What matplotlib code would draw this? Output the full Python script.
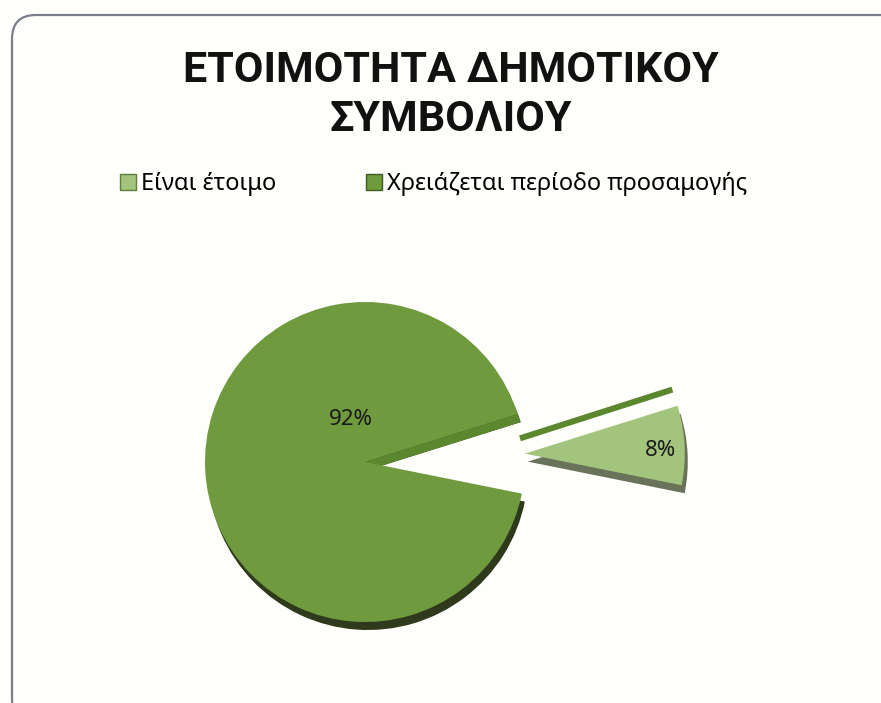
import numpy as np
import matplotlib
matplotlib.use('Agg')
import matplotlib.pyplot as plt
from matplotlib.patches import FancyBboxPatch, Patch, Polygon

title = 'ΕΤΟΙΜΟΤΗΤΑ ΔΗΜΟΤΙΚΟΥ\nΣΥΜΒΟΛΙΟΥ'
labels = ['Είναι έτοιμο', 'Χρειάζεται περίοδο προσαμογής']
shares = [8, 92]
pct_labels = ['8%', '92%']

colors = ['#a3c47c', '#6f9a3e']
side_colors = ['#68735a', '#2e3a1b']
strip_color = '#5b872e'

title_font = 'Roboto'
body_font = 'Noto Sans'

W, H = 881, 703
fig = plt.figure(figsize=(8.81, 7.03), dpi=100, facecolor='#fefefb')
ax = fig.add_axes([0, 0, 1, 1])
ax.set_facecolor('#fefefb')

# pie geometry (pixel units, y up)
cx, cy, r = 365, 241, 160
start = -11.4
explode = [r, 0]   # pie explode is in data units
depth = np.array([3, -8])

# depth / shadow layer first
ax.pie(shares, colors=side_colors, startangle=start, explode=explode,
       center=(cx + depth[0], cy + depth[1]), radius=r, frame=True,
       wedgeprops=dict(linewidth=0))

# side wall of the big slice seen through the gap
edge = np.deg2rad(start + shares[0] / 100 * 360)
d = np.array([np.cos(edge), np.sin(edge)])
n = np.array([-np.sin(edge), np.cos(edge)])
c0 = np.array([cx, cy])
wall = [c0, c0 + r * d, c0 + r * d + depth, c0 + depth]
ax.add_patch(Polygon(wall, closed=True, facecolor=strip_color, edgecolor='none'))

wedges, _ = ax.pie(shares, colors=colors, startangle=start, explode=explode,
                   center=(cx, cy), radius=r, frame=True,
                   wedgeprops=dict(linewidth=0))

# exploded slice geometry
mid = np.deg2rad(start + shares[0] / 100 * 180)
ex, ey = cx + r * np.cos(mid), cy + r * np.sin(mid)
tip = np.array([ex, ey])
# thin dark sliver above the pulled-out slice
strip = [tip + 13 * n, tip + r * d + 14 * n, tip + r * d + 20 * n, tip + 19 * n]
ax.add_patch(Polygon(strip, closed=True, facecolor=strip_color, edgecolor='none'))

# percentage labels
a8 = mid - np.deg2rad(1.5)
ax.text(ex + 0.85 * r * np.cos(a8), ey + 0.85 * r * np.sin(a8), pct_labels[0],
        ha='center', va='center', fontsize=16, family=body_font, color='#1a1a1a')
a92 = np.deg2rad(108)
ax.text(cx + 0.28 * r * np.cos(a92), cy + 0.28 * r * np.sin(a92), pct_labels[1],
        ha='center', va='center', fontsize=16, family=body_font, color='#1a1a1a')

# title
ax.text(W / 2 + 10, H - 95, title, ha='center', va='center', fontsize=31,
        fontweight='bold', family=title_font, linespacing=1.25, color='#111111')

# legend
handles = [Patch(facecolor=colors[0], edgecolor='#5d7f3a', linewidth=1),
           Patch(facecolor=colors[1], edgecolor='#3f5a22', linewidth=1)]
ax.legend(handles, labels, loc='center left', bbox_to_anchor=(120, H - 184),
          bbox_transform=ax.transData, frameon=False, ncol=2,
          handlelength=0.68, handleheight=0.68, handletextpad=0.2,
          columnspacing=3.8, borderpad=0, borderaxespad=0,
          prop=dict(family=body_font, size=17))

# rounded frame
ax.add_patch(FancyBboxPatch((12, -20), W + 20, H - 15 + 20,
                            boxstyle='round,pad=0,rounding_size=24',
                            facecolor='none', edgecolor='#7b7e8c', linewidth=1.6))

ax.set_xlim(0, W)
ax.set_ylim(0, H)
ax.set_aspect('equal')
ax.axis('off')

fig.savefig('out.png', dpi=100, facecolor=fig.get_facecolor())
